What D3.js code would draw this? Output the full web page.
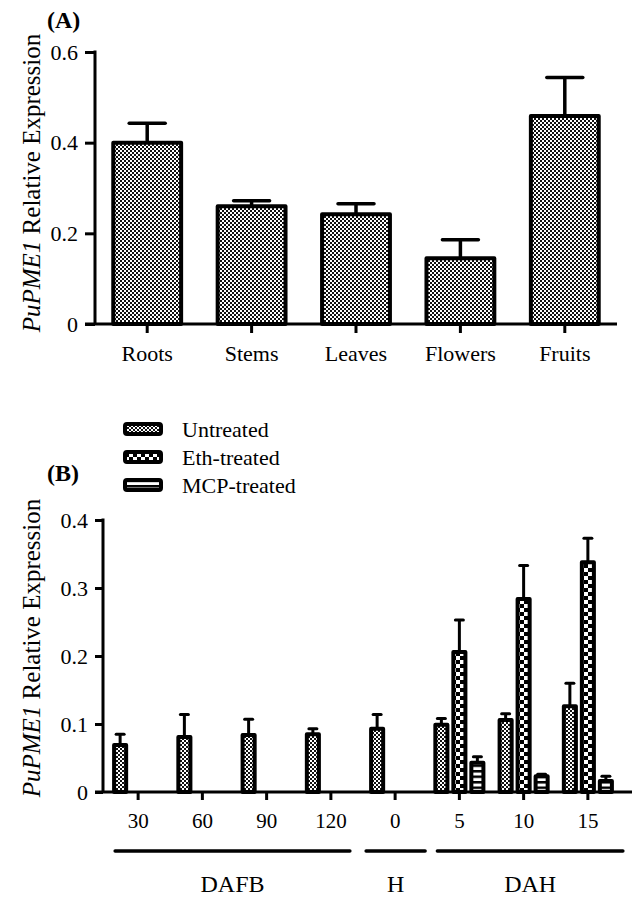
<!DOCTYPE html>
<html>
<head>
<meta charset="utf-8">
<script src="https://cdn.jsdelivr.net/npm/d3@7"></script>
<style>
  html, body { margin: 0; padding: 0; background: #fff; }
</style>
</head>
<body>
<svg id="chart" width="635" height="899"></svg>
<script>
// *************** DATA ***************
const tissues = ["Roots", "Stems", "Leaves", "Flowers", "Fruits"];
const tissueMean = [0.400, 0.260, 0.242, 0.145, 0.459];
const tissueErr  = [0.043, 0.012, 0.023, 0.041, 0.085];
const ticksA = [0, 0.2, 0.4, 0.6];

const stages = ["30", "60", "90", "120", "0", "5", "10", "15"];
const treatments = ["Untreated", "Eth-treated", "MCP-treated"];
const untreatedMean = [0.069, 0.081, 0.084, 0.085, 0.093, 0.099, 0.106, 0.126];
const untreatedErr  = [0.016, 0.033, 0.023, 0.008, 0.021, 0.009, 0.009, 0.034];
const ethMean = [null, null, null, null, null, 0.206, 0.284, 0.338];
const ethErr  = [null, null, null, null, null, 0.047, 0.049, 0.035];
const mcpMean = [null, null, null, null, null, 0.043, 0.023, 0.016];
const mcpErr  = [null, null, null, null, null, 0.009, 0.003, 0.007];
const ticksB = [0, 0.1, 0.2, 0.3, 0.4];

const groupLabels = ["DAFB", "H", "DAH"];
const groupFirst  = ["30", "0", "5"];
const groupLast   = ["120", "0", "15"];

// *************** LAYOUT ***************
const FONT = "Liberation Serif";
const svg = d3.select("#chart").style("font-family", FONT);
const fmt = d => d === 0 ? "0" : d.toFixed(1);
const groupPad = [[23, 19], [29, 30], [22, 35]];   // bracket overhang, px

// *************** PATTERNS ***************
const defs = svg.append("defs");

const fine = defs.append("pattern").attr("id", "fineCheck")
  .attr("patternUnits", "userSpaceOnUse").attr("width", 4).attr("height", 4);
fine.append("rect").attr("width", 4).attr("height", 4).attr("fill", "#fff");
fine.append("rect").attr("width", 2).attr("height", 2).attr("fill", "#111");
fine.append("rect").attr("x", 2).attr("y", 2).attr("width", 2).attr("height", 2).attr("fill", "#111");

const big = defs.append("pattern").attr("id", "bigCheck")
  .attr("patternUnits", "userSpaceOnUse").attr("width", 8).attr("height", 8);
big.append("rect").attr("width", 8).attr("height", 8).attr("fill", "#000");
big.append("rect").attr("width", 4).attr("height", 4).attr("fill", "#fff");
big.append("rect").attr("x", 4).attr("y", 4).attr("width", 4).attr("height", 4).attr("fill", "#fff");

const stripe = defs.append("pattern").attr("id", "hStripe")
  .attr("patternUnits", "userSpaceOnUse").attr("width", 6).attr("height", 5.5);
stripe.append("rect").attr("width", 6).attr("height", 5.5).attr("fill", "#fff");
stripe.append("rect").attr("width", 6).attr("height", 2.5).attr("fill", "#000");

const fills = ["url(#fineCheck)", "url(#bigCheck)", "url(#hStripe)"];

function styleAxis(a, size) {
  a.select(".domain").remove();
  a.selectAll("line").attr("stroke", "#000").attr("stroke-width", 3);
  a.selectAll("text").attr("fill", "#000")
   .style("font-family", FONT).style("font-size", size);
}

// *************** PANEL A ***************
const xA = d3.scaleBand().domain(tissues).range([95, 617])
             .paddingInner(0.35).paddingOuter(0.175);
const yA = d3.scaleLinear().domain([0, 0.6]).range([324, 52]);

const gA = svg.append("g");

tissues.forEach((d, i) => {
  const cx = xA(d) + xA.bandwidth() / 2;
  const top = yA(tissueMean[i] + tissueErr[i]);
  gA.append("line")
    .attr("x1", cx).attr("x2", cx)
    .attr("y1", yA(tissueMean[i])).attr("y2", top)
    .attr("stroke", "#000").attr("stroke-width", 3.5);
  gA.append("line")
    .attr("x1", cx - 18).attr("x2", cx + 18)
    .attr("y1", top).attr("y2", top)
    .attr("stroke", "#000").attr("stroke-width", 3.5).attr("stroke-linecap", "round");
});

gA.selectAll("rect.barA")
  .data(tissues)
  .join("rect")
  .attr("class", "barA")
  .attr("x", d => xA(d))
  .attr("width", xA.bandwidth())
  .attr("y", (d, i) => yA(tissueMean[i]))
  .attr("height", (d, i) => yA(0) - yA(tissueMean[i]))
  .attr("fill", fills[0])
  .attr("stroke", "#000")
  .attr("stroke-width", 4)
  .attr("stroke-linejoin", "round");

const axA = gA.append("g").attr("transform", "translate(95,0)")
  .call(d3.axisLeft(yA).tickValues(ticksA).tickFormat(fmt).tickSize(10).tickPadding(7).tickSizeOuter(0));
const axAx = gA.append("g").attr("transform", "translate(0,324)")
  .call(d3.axisBottom(xA).tickSize(9).tickPadding(12).tickSizeOuter(0));
styleAxis(axA, "22px");
styleAxis(axAx, "22px");
gA.append("line").attr("x1", 95).attr("x2", 95).attr("y1", yA(0.6) - 1.5).attr("y2", 324)
  .attr("stroke", "#000").attr("stroke-width", 3);
gA.append("line").attr("x1", 85).attr("x2", 617).attr("y1", 324).attr("y2", 324)
  .attr("stroke", "#000").attr("stroke-width", 3);

svg.append("text").attr("x", 47).attr("y", 28)
  .style("font-size", "24px").style("font-weight", "bold").text("(A)");

function yTitle(cx, cy) {
  const t = svg.append("text")
    .attr("transform", `translate(${cx},${cy}) rotate(-90)`)
    .attr("text-anchor", "middle")
    .style("font-size", "25px");
  t.append("tspan").style("font-style", "italic").text("PuPME1");
  t.append("tspan").text(" Relative Expression");
}
yTitle(40, 183);

// *************** PANEL B ***************
const xB = d3.scaleBand().domain(stages).range([106, 620]);
const xIn = d3.scaleBand().domain(treatments).range([-27, 27])
              .paddingInner(0.33).paddingOuter(0.165);
const yB = d3.scaleLinear().domain([0, 0.4]).range([792, 520]);

const series = [
  { name: treatments[0], mean: untreatedMean, err: untreatedErr },
  { name: treatments[1], mean: ethMean, err: ethErr },
  { name: treatments[2], mean: mcpMean, err: mcpErr }
];

const gB = svg.append("g");

series.forEach((s, k) => {
  const pts = stages.map((st, i) => ({ st, m: s.mean[i], e: s.err[i] })).filter(p => p.m != null);
  const cx = p => xB(p.st) + xB.bandwidth() / 2 + xIn(s.name) + xIn.bandwidth() / 2;

  gB.selectAll(null).data(pts).join("line")
    .attr("x1", cx).attr("x2", cx)
    .attr("y1", p => yB(p.m)).attr("y2", p => yB(p.m + p.e))
    .attr("stroke", "#000").attr("stroke-width", 3);
  gB.selectAll(null).data(pts).join("line")
    .attr("x1", p => cx(p) - 4).attr("x2", p => cx(p) + 4)
    .attr("y1", p => yB(p.m + p.e)).attr("y2", p => yB(p.m + p.e))
    .attr("stroke", "#000").attr("stroke-width", 3).attr("stroke-linecap", "round");

  gB.selectAll(null).data(pts).join("rect")
    .attr("x", p => cx(p) - xIn.bandwidth() / 2)
    .attr("width", xIn.bandwidth())
    .attr("y", p => yB(p.m))
    .attr("height", p => yB(0) - yB(p.m))
    .attr("fill", fills[k])
    .attr("stroke", "#000")
    .attr("stroke-width", 4)
    .attr("stroke-linejoin", "round");
});

const axB = gB.append("g").attr("transform", "translate(103,0)")
  .call(d3.axisLeft(yB).tickValues(ticksB).tickFormat(fmt).tickSize(8).tickPadding(7).tickSizeOuter(0));
const axBx = gB.append("g").attr("transform", "translate(0,792)")
  .call(d3.axisBottom(xB).tickSize(8).tickPadding(13).tickSizeOuter(0));
styleAxis(axB, "22px");
styleAxis(axBx, "21px");
gB.append("line").attr("x1", 103).attr("x2", 103).attr("y1", yB(0.4) - 1.5).attr("y2", 792)
  .attr("stroke", "#000").attr("stroke-width", 3);
gB.append("line").attr("x1", 95).attr("x2", 632).attr("y1", 792).attr("y2", 792)
  .attr("stroke", "#000").attr("stroke-width", 3);

// group brackets
groupLabels.forEach((lab, i) => {
  const x1 = xB(groupFirst[i]) + xB.bandwidth() / 2 - groupPad[i][0];
  const x2 = xB(groupLast[i]) + xB.bandwidth() / 2 + groupPad[i][1];
  svg.append("line").attr("x1", x1).attr("x2", x2).attr("y1", 851).attr("y2", 851)
    .attr("stroke", "#000").attr("stroke-width", 3.5).attr("stroke-linecap", "round");
  svg.append("text").attr("x", (x1 + x2) / 2).attr("y", 892)
    .attr("text-anchor", "middle").style("font-size", "24px").text(lab);
});

svg.append("text").attr("x", 47).attr("y", 481)
  .style("font-size", "24px").style("font-weight", "bold").text("(B)");
yTitle(40, 648);

// legend
const legend = svg.append("g").attr("transform", "translate(125,429)");
treatments.forEach((t, i) => {
  const row = legend.append("g").attr("transform", `translate(0,${i * 28})`);
  row.append("rect").attr("x", 0).attr("y", -5).attr("width", 36).attr("height", 10)
    .attr("rx", 2).attr("fill", fills[i]).attr("stroke", "#000").attr("stroke-width", 4)
    .attr("stroke-linejoin", "round");
  row.append("text").attr("x", 57).attr("y", 0).attr("dy", "0.35em")
    .style("font-size", "22px").text(t);
});
</script>
</body>
</html>
